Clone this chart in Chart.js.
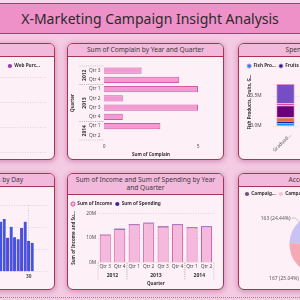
<!DOCTYPE html>
<html>
<head>
<meta charset="utf-8">
<script src="https://cdn.jsdelivr.net/npm/chart.js@4.4.0/dist/chart.umd.min.js"></script>
<style>
  html, body { margin: 0; padding: 0; }
  body { width: 300px; height: 300px; overflow: hidden; position: relative; background: #f4cbe3; font-family: "Noto Sans", sans-serif; }
  #topStrip { position: absolute; left: 0; top: 0; width: 300px; height: 3px; background: #f8d9ec; }
  #titleBar { position: absolute; left: -5px; top: 3px; width: 310px; height: 31px; box-sizing: border-box; background: #ee91c8;
              border-top: 1px solid #ab3a70; border-bottom: 1px solid #ab3a70; text-align: center; line-height: 29px; font-size: 14px; color: #2b2b2b; }
  .panel { position: absolute; box-sizing: border-box; background: #fdf0f7; border: 1.5px solid #a6364f; border-radius: 6px; overflow: hidden;
           box-shadow: 0 1px 5px 1px rgba(185, 80, 145, 0.45); }
  .hdr { position: absolute; left: 0; top: 0; right: 0; box-sizing: border-box; background: #f3b9dc; border-bottom: 1.5px solid #a6364f;
         font-size: 6.6px; color: #3a3a3a; text-align: center; display: flex; align-items: center; justify-content: center; line-height: 7.7px; }
  .panel canvas { position: absolute; left: 0; }
  #dots { position: absolute; left: 0; top: 297px; width: 300px; border-top: 1.5px dotted #9a8a94; }
</style>
</head>
<body>
<div id="topStrip"></div>
<div id="titleBar">X-Marketing Campaign Insight Analysis</div>

<div class="panel" style="left:-102px;top:43px;width:157px;height:117px">
  <div class="hdr" style="height:12.5px">Store vs Web</div>
  <canvas id="purchaseChart" width="154" height="125" style="top:12.5px"></canvas>
</div>
<div class="panel" style="left:67px;top:43px;width:157px;height:117px">
  <div class="hdr" style="height:12.5px">Sum of Complain by Year and Quarter</div>
  <canvas id="complainChart" width="154" height="101" style="top:12.5px"></canvas>
</div>
<div class="panel" style="left:238px;top:43px;width:166px;height:117px">
  <div class="hdr" style="height:12.5px">Spending by Education</div>
  <canvas id="productChart" width="260" height="101" style="top:12.5px"></canvas>
</div>

<div class="panel" style="left:-102px;top:173px;width:157px;height:117px">
  <div class="hdr" style="height:12.5px">Sum of Web Purchases by Day</div>
  <canvas id="dayChart" width="154" height="101" style="top:12.5px"></canvas>
</div>
<div class="panel" style="left:67px;top:173px;width:157px;height:117px">
  <div class="hdr" style="height:20.5px">Sum of Income and Sum of Spending by Year<br>and Quarter</div>
  <canvas id="incomeChart" width="154" height="93" style="top:20.5px"></canvas>
</div>
<div class="panel" style="left:238px;top:173px;width:166px;height:117px">
  <div class="hdr" style="height:12.5px">Accepted Campaigns</div>
  <canvas id="campaignChart" width="163" height="101" style="top:12.5px"></canvas>
</div>
<div id="dots"></div>

<script>
// store / web purchases by marital status
const maritalLabels = ['Married', 'Together', 'Single', 'Divorced', 'Widow', 'Alone', 'Absurd', 'YOLO'];
const storeValues = [5030, 3370, 2760, 1350, 480, 15, 10, 14];
const webValues = [3560, 2370, 1920, 960, 330, 10, 12, 13];

// complain, income and spending by year and quarter
const quarterLabels = ['Qtr 3', 'Qtr 4', 'Qtr 1', 'Qtr 2', 'Qtr 3', 'Qtr 4', 'Qtr 1', 'Qtr 2'];
const quarterYears = ['2012', '2012', '2013', '2013', '2013', '2013', '2014', '2014'];
const complainValues = [2, 4, 5, 1, 5, 1, 3, 0];
const incomeValues = [11.3e6, 13.6e6, 15.5e6, 16.0e6, 14.6e6, 15.5e6, 14.3e6, 14.7e6];
const spendingValues = [0.15e6, 0.18e6, 0.2e6, 0.2e6, 0.18e6, 0.19e6, 0.17e6, 0.17e6];

// web purchases by day of month
const dayNumbers = [22, 23, 24, 25, 26, 27, 28, 29, 30, 31];
const dayValues = [225, 237, 153, 202, 155, 146, 197, 225, 138, 130];
const dayTicks = [30];

// product spending by education
const educationLabels = ['Graduation', 'PhD', 'Master', '2n Cycle', 'Basic'];
const productNames = ['Fish Products', 'Fruits', 'Gold Products', 'Meat Products', 'Sweet Products', 'Wines'];
const fishValues = [48600, 13000, 11900, 9600, 900];
const fruitValues = [34700, 9700, 7800, 5900, 600];
const goldValues = [57300, 15700, 15000, 9400, 1200];
const meatValues = [202000, 82000, 60000, 28700, 600];
const sweetValues = [35400, 9800, 7900, 7000, 650];
const wineValues = [320000, 197000, 123000, 40000, 400];
const productTicks = [0, 0.5e6];
const productColors = ['#118dff', '#12239e', '#e66c37', '#6b007b', '#e044a7', '#744ec2'];

// accepted campaigns
const campaignLabels = ['Campaign 1', 'Campaign 2', 'Campaign 3', 'Campaign 4', 'Campaign 5'];
const campaignAccepted = [144, 30, 163, 167, 163];
const campaignColors = ['#7d4c73', '#f6c3da', '#e88bbf', '#f5a9b2', '#c8c2f5'];

Chart.defaults.font.family = "'Noto Sans', sans-serif";
Chart.defaults.font.size = 4.8;
Chart.defaults.color = '#505050';
Chart.defaults.animation = false;

const gridColor = '#cdcdcd';
const axisTitleFont = { size: 4.5, weight: 'bold' };
const noGrid = { display: false, drawTicks: false };

function trunc(text, n) {
    return text.length > n ? text.slice(0, n) + '...' : text;
}

// keep legends on one row and trim the gap below them
const legendFit = {
    id: 'legendFit',
    afterInit(chart, args, opts) {
        const legend = chart.legend;
        if (!legend) return;
        const fit = legend.fit;
        legend.fit = function () {
            const w = this.maxWidth;
            this.maxWidth = 10000;
            fit.call(this);
            this.maxWidth = w;
            if (this.options.display) {
                this.width = Math.min(this.width, w);
                this.height -= opts.trim || 0;
            }
        };
        const draw = legend.draw;
        legend.draw = function () {
            if (this.options.align !== 'start') return draw.call(this);
            const right = this.right;
            this.right = this.left + 10000;
            draw.call(this);
            this.right = right;
        };
    }
};

// year grouping under / beside the quarter axis
const yearGroups = {
    id: 'yearGroups',
    afterDraw(chart, args, opts) {
        if (!opts.years) return;
        const scale = chart.scales[opts.axis];
        const { ctx, chartArea } = chart;
        const step = Math.abs(scale.getPixelForValue(1) - scale.getPixelForValue(0));
        const runs = [];
        opts.years.forEach((year, i) => {
            const run = runs[runs.length - 1];
            if (run && run.year === year) run.end = i;
            else runs.push({ year, start: i, end: i });
        });
        ctx.save();
        ctx.font = "bold 5px 'Noto Sans', sans-serif";
        ctx.fillStyle = '#333';
        ctx.strokeStyle = '#b5b5b5';
        ctx.lineWidth = 0.7;
        ctx.setLineDash([1, 1.2]);
        ctx.textAlign = 'center';
        ctx.textBaseline = 'middle';
        const edges = [];
        runs.forEach(run => {
            const a = scale.getPixelForValue(run.start);
            const b = scale.getPixelForValue(run.end);
            const lo = Math.min(a, b) - step / 2;
            const hi = Math.max(a, b) + step / 2;
            edges.push(lo, hi);
            const mid = (lo + hi) / 2;
            if (opts.axis === 'y') {
                ctx.save();
                ctx.translate(opts.textPos, mid);
                ctx.rotate(-Math.PI / 2);
                ctx.fillText(run.year, 0, 0);
                ctx.restore();
            } else {
                ctx.fillText(run.year, mid, opts.textPos);
            }
        });
        edges.forEach(p => {
            ctx.beginPath();
            if (opts.axis === 'y') {
                ctx.moveTo(opts.lineFrom, p);
                ctx.lineTo(chartArea.left, p);
            } else {
                ctx.moveTo(p, chartArea.bottom);
                ctx.lineTo(p, chartArea.bottom + opts.lineLen);
            }
            ctx.stroke();
        });
        ctx.restore();
    }
};

// "value (percent)" labels around the pie
const pieLabels = {
    id: 'pieLabels',
    afterDatasetsDraw(chart, args, opts) {
        if (!opts.display) return;
        const { ctx } = chart;
        const values = chart.data.datasets[0].data;
        const total = values.reduce((a, b) => a + b, 0);
        ctx.save();
        ctx.font = "5px 'Noto Sans', sans-serif";
        ctx.fillStyle = '#5a5a5a';
        ctx.strokeStyle = '#a8a8a8';
        ctx.lineWidth = 0.6;
        ctx.textBaseline = 'middle';
        chart.getDatasetMeta(0).data.forEach((arc, i) => {
            const p = arc.getProps(['x', 'y', 'startAngle', 'endAngle', 'outerRadius'], true);
            const mid = (p.startAngle + p.endAngle) / 2;
            const cos = Math.cos(mid), sin = Math.sin(mid);
            const text = values[i] + ' (' + (values[i] / total * 100).toFixed(2) + '%)';
            if (sin < 0) {
                const r2 = p.outerRadius + 5;
                const x2 = p.x + cos * r2, y2 = p.y + sin * r2;
                const x3 = x2 + (cos < 0 ? -4 : 4);
                ctx.beginPath();
                ctx.moveTo(p.x + cos * p.outerRadius, p.y + sin * p.outerRadius);
                ctx.lineTo(x2, y2);
                ctx.lineTo(x3, y2);
                ctx.stroke();
                ctx.textAlign = cos < 0 ? 'right' : 'left';
                ctx.fillText(text, x3 + (cos < 0 ? -1 : 1), y2);
            } else {
                ctx.textAlign = 'center';
                ctx.fillText(text, p.x + cos * (p.outerRadius + 19), p.y + sin * (p.outerRadius + 19));
            }
        });
        ctx.restore();
    }
};

Chart.register(legendFit, yearGroups, pieLabels);

function legendLabels(n) {
    return {
        usePointStyle: true, pointStyle: 'circle', boxWidth: 4, boxHeight: 3, padding: 3,
        color: '#333', font: { size: 4.7, weight: 'bold' },
        generateLabels: chart => {
            const gen = chart.config.type === 'pie'
                ? Chart.overrides.doughnut.plugins.legend.labels.generateLabels
                : Chart.defaults.plugins.legend.labels.generateLabels;
            return gen(chart).map(l => Object.assign(l, { text: trunc(l.text, n) }));
        }
    };
}

// top left: purchases by marital status
new Chart(document.getElementById('purchaseChart'), {
    type: 'bar',
    data: {
        labels: maritalLabels,
        datasets: [
            { label: 'Store Purchases', data: storeValues, backgroundColor: '#e87cbf' },
            { label: 'Web Purchases', data: webValues, backgroundColor: '#9c36b5' }
        ]
    },
    options: {
        responsive: false,
        layout: { padding: { top: -3.35, right: 3, left: 0, bottom: 0 } },
        plugins: {
            legend: { align: 'end', labels: Object.assign(legendLabels(8), { padding: 10 }) },
            legendFit: { trim: 0.6 },
            tooltip: { enabled: false }
        },
        scales: {
            x: { ticks: { padding: 10 }, grid: noGrid, border: { display: false },
                 afterFit: s => { s.height = 30; } },
            y: { min: 0, max: 5500, bounds: 'data', ticks: { stepSize: 2000, callback: v => v / 1000 + 'K' },
                 grid: { color: gridColor, lineWidth: 0.7, drawTicks: false }, border: { display: false, dash: [1, 1.5] },
                 afterFit: s => { s.width = 14.5; } }
        }
    }
});

// top middle: complain by year and quarter
new Chart(document.getElementById('complainChart'), {
    type: 'bar',
    data: {
        labels: quarterLabels,
        datasets: [{ label: 'Sum of Complain', data: complainValues, backgroundColor: '#f29ad2', borderColor: '#d35aa6',
                     borderWidth: 1, barPercentage: 0.78, categoryPercentage: 0.9 }]
    },
    options: {
        indexAxis: 'y',
        responsive: false,
        layout: { padding: { top: 9, right: 24, bottom: 0, left: 0 } },
        plugins: {
            legend: { display: false }, tooltip: { enabled: false },
            yearGroups: { axis: 'y', years: quarterYears, textPos: 16.5, lineFrom: 11.5 }
        },
        scales: {
            x: { min: 0, max: 5, ticks: { stepSize: 5, padding: 4 }, grid: noGrid, border: { display: false },
                 title: { display: true, text: 'Sum of Complain', color: '#333', font: axisTitleFont, padding: { top: 0, bottom: 1 } },
                 afterFit: s => { s.height = 18; } },
            y: { ticks: { padding: 3.5, autoSkip: false }, grid: noGrid, border: { display: false },
                 title: { display: true, text: 'Quarter', color: '#333', font: axisTitleFont, padding: { top: 2.5, bottom: 0 } },
                 afterFit: s => { s.width = 36; } }
        }
    }
});

// top right: product spending by education
const productData = [fishValues, fruitValues, goldValues, meatValues, sweetValues, wineValues];
new Chart(document.getElementById('productChart'), {
    type: 'bar',
    data: {
        labels: educationLabels,
        datasets: productNames.map((name, i) => ({
            label: name, data: productData[i], backgroundColor: productColors[i],
            borderColor: '#e58cc6', borderWidth: 0.8, barPercentage: 0.78, categoryPercentage: 0.9
        }))
    },
    options: {
        responsive: false,
        layout: { padding: { top: 3.65, right: 96.5, left: 5.2, bottom: 0 } },
        plugins: {
            legend: { align: 'start', labels: legendLabels(8) },
            legendFit: { trim: 0.35 },
            tooltip: { enabled: false }
        },
        scales: {
            x: { stacked: true,
                 ticks: { minRotation: 45, maxRotation: 45, padding: 6.5, labelOffset: 5, autoSkip: false,
                          callback: function (v) { return trunc(this.getLabelForValue(v), 8); } },
                 grid: noGrid, border: { display: false },
                 title: { display: true, text: 'Education', color: '#333', font: axisTitleFont, padding: { top: 0, bottom: 1 } },
                 afterFit: s => { s.height = 32; } },
            y: { stacked: true, min: 0, max: 0.8e6, bounds: 'data',
                 ticks: { padding: 11, callback: v => (v / 1e6).toFixed(1) + 'M' },
                 afterBuildTicks: s => { s.ticks = productTicks.map(value => ({ value })); },
                 grid: { color: gridColor, lineWidth: 0.7, drawTicks: false }, border: { display: false, dash: [1, 1.5] },
                 title: { display: true, text: 'Fish Products, Fruits, G...', color: '#333', font: axisTitleFont, padding: { top: 2.5, bottom: 0 } },
                 afterFit: s => { s.width = 28.3; } }
        }
    }
});

// bottom left: web purchases by day
new Chart(document.getElementById('dayChart'), {
    type: 'bar',
    data: {
        datasets: [{
            label: 'Web Purchases',
            data: dayNumbers.map((d, i) => ({ x: d, y: dayValues[i] })),
            backgroundColor: '#3d55e0', borderColor: '#9a3cb8',
            borderWidth: { left: 0.6, right: 0, top: 0, bottom: 0 },
            barThickness: 2.8
        }]
    },
    options: {
        responsive: false,
        layout: { padding: { top: 18, right: 5.5, left: 0, bottom: 0 } },
        plugins: { legend: { display: false }, tooltip: { enabled: false } },
        scales: {
            x: { type: 'linear', min: 21.5, max: 35.35, bounds: 'data', offset: false,
                 ticks: { padding: 2, font: { weight: 'bold' } },
                 afterBuildTicks: s => { s.ticks = dayTicks.map(value => ({ value })); },
                 grid: { color: '#bdbdbd', lineWidth: 0.7, drawTicks: false, offset: false }, border: { display: false, dash: [1, 1.5] },
                 afterFit: s => { s.height = 16.3; } },
            y: { min: 0, max: 300, bounds: 'data', ticks: { stepSize: 100, padding: 2 },
                 grid: { color: gridColor, lineWidth: 0.7, drawTicks: false }, border: { display: false, dash: [1, 1.5] },
                 afterFit: s => { s.width = 100; } }
        }
    }
});

// bottom middle: income and spending by year and quarter
new Chart(document.getElementById('incomeChart'), {
    type: 'bar',
    data: {
        labels: quarterLabels,
        datasets: [
            { label: 'Sum of Income', data: incomeValues, backgroundColor: '#f4b9dc', borderColor: '#cf5ba6',
              borderWidth: 1, barPercentage: 0.85, categoryPercentage: 0.9 },
            { label: 'Sum of Spending', data: spendingValues, backgroundColor: '#3a22a6', borderColor: '#3a22a6',
              borderWidth: 0, barPercentage: 0.85, categoryPercentage: 0.9 }
        ]
    },
    options: {
        responsive: false,
        layout: { padding: { top: 3.65, right: 8.25, left: 0, bottom: 0 } },
        plugins: {
            legend: { align: 'start', labels: legendLabels(20) },
            legendFit: { trim: 3.05 },
            tooltip: { enabled: false },
            yearGroups: { axis: 'x', years: quarterYears, textPos: 80.3, lineLen: 17 }
        },
        scales: {
            x: { stacked: true, ticks: { padding: 1.5, autoSkip: false, maxRotation: 0 }, grid: noGrid, border: { display: false },
                 title: { display: true, text: 'Quarter', color: '#333', font: axisTitleFont, padding: { top: 0, bottom: 1.7 } },
                 afterFit: s => { s.height = 25.3; } },
            y: { stacked: true, min: 0, max: 20e6, ticks: { stepSize: 10e6, padding: 2, callback: v => v / 1e6 + 'M' },
                 grid: { color: gridColor, lineWidth: 0.7, drawTicks: false }, border: { display: false, dash: [1, 1.5] },
                 title: { display: true, text: 'Sum of Income and Su...', color: '#333', font: axisTitleFont, padding: { top: 3.5, bottom: 0 } },
                 afterFit: s => { s.width = 30; } }
        }
    }
});

// bottom right: accepted campaigns
new Chart(document.getElementById('campaignChart'), {
    type: 'pie',
    data: {
        labels: campaignLabels,
        datasets: [{ data: campaignAccepted, backgroundColor: campaignColors, borderWidth: 0, radius: 31 }]
    },
    options: {
        responsive: false,
        layout: { padding: { top: 1.65, left: 3, right: 3, bottom: 6.35 } },
        plugins: {
            legend: { align: 'start', labels: legendLabels(7) },
            tooltip: { enabled: false },
            pieLabels: { display: true }
        }
    }
});
</script>
</body>
</html>
